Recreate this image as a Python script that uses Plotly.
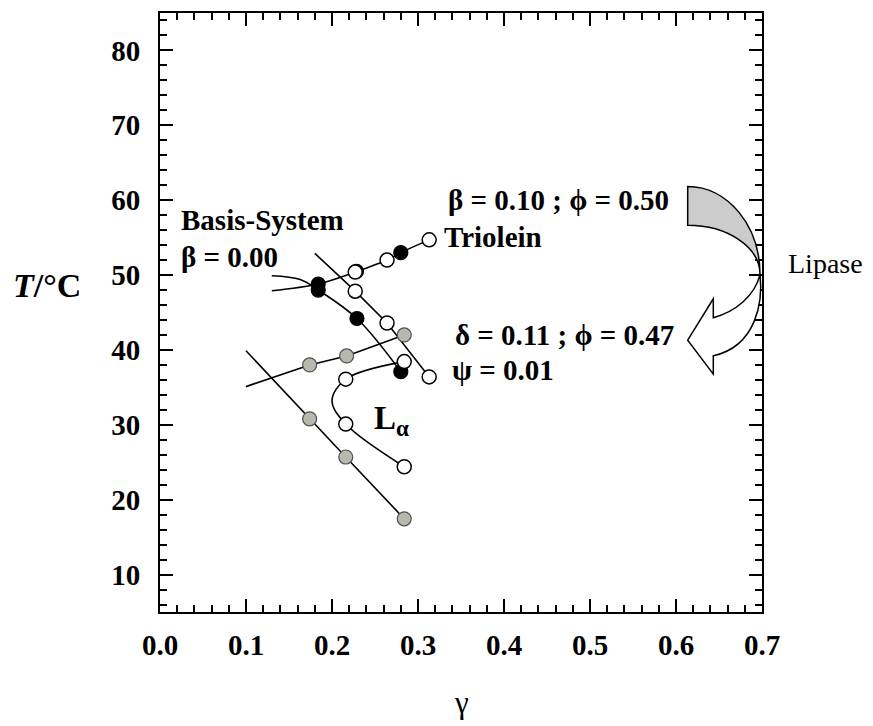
import plotly.graph_objects as go

# ---------------- data ----------------
# phase-boundary lines
tri_line_x = [0.130, 0.184, 0.227, 0.264, 0.280, 0.313]
tri_line_y = [47.9, 48.8, 50.4, 52.0, 53.0, 54.7]

basis_line_x = [0.130, 0.163, 0.184, 0.229, 0.280]
basis_line_y = [49.9, 49.4, 48.0, 44.2, 37.1]

open_up_line_x = [0.180, 0.227, 0.264, 0.313]
open_up_line_y = [52.9, 47.85, 43.6, 36.4]

gray_up_line_x = [0.100, 0.174, 0.217, 0.284]
gray_up_line_y = [35.1, 38.0, 39.2, 42.0]

gray_low_line_x = [0.100, 0.174, 0.216, 0.284]
gray_low_line_y = [39.9, 30.8, 25.7, 17.45]

open_low_line_x = [0.284, 0.216, 0.200, 0.216, 0.284]
open_low_line_y = [38.44, 36.1, 33.2, 30.1, 24.4]

# measured points
black_x = [0.184, 0.184, 0.2285, 0.229, 0.280, 0.280]
black_y = [48.8, 48.0, 50.5, 44.2, 53.0, 37.1]

open_x = [0.227, 0.227, 0.264, 0.264, 0.313, 0.313, 0.284, 0.216, 0.216, 0.284]
open_y = [50.4, 47.85, 52.0, 43.6, 54.7, 36.4, 38.44, 36.1, 30.1, 24.4]

gray_x = [0.174, 0.217, 0.284, 0.174, 0.216, 0.284]
gray_y = [38.0, 39.2, 42.0, 30.8, 25.7, 17.45]

x_range = [0.0, 0.7]
y_range = [5, 85]

# ---------------- layout geometry ----------------
W, H = 873, 726
X0, X1, Y0, Y1 = 160, 762, 11, 612
FONT = "Liberation Serif, Times New Roman, serif"


def px(x):
    return (x - X0) / (X1 - X0)


def py(y):
    return (Y1 - y) / (Y1 - Y0)


fig = go.Figure()

for lx, ly, shape in [
    (tri_line_x, tri_line_y, "spline"),
    (basis_line_x, basis_line_y, "spline"),
    (open_up_line_x, open_up_line_y, "linear"),
    (gray_up_line_x, gray_up_line_y, "linear"),
    (gray_low_line_x, gray_low_line_y, "linear"),
    (open_low_line_x, open_low_line_y, "spline"),
]:
    fig.add_trace(go.Scatter(x=lx, y=ly, mode="lines",
                             line=dict(color="black", width=1.6, shape=shape, smoothing=1.0),
                             hoverinfo="skip", showlegend=False))

fig.add_trace(go.Scatter(x=gray_x, y=gray_y, mode="markers",
                         marker=dict(size=14, color="rgb(184,184,172)",
                                     line=dict(color="rgb(80,80,80)", width=1.2)),
                         showlegend=False))
fig.add_trace(go.Scatter(x=black_x, y=black_y, mode="markers",
                         marker=dict(size=14, color="black",
                                     line=dict(color="black", width=1.2)),
                         showlegend=False))
fig.add_trace(go.Scatter(x=open_x, y=open_y, mode="markers",
                         marker=dict(size=14, color="white",
                                     line=dict(color="black", width=1.5)),
                         showlegend=False))

axis_common = dict(
    showline=True, linecolor="black", linewidth=2, mirror="ticks",
    ticks="inside", ticklen=13, tickwidth=2, tickcolor="black",
    showgrid=False, zeroline=False,
    tickfont=dict(family=FONT, size=29, color="black", weight="bold"),
)

fig.update_xaxes(range=x_range, tick0=0, dtick=0.1, tickformat=".1f",
                 minor=dict(dtick=0.02, ticks="inside", ticklen=7, tickwidth=1.5, tickcolor="black"),
                 ticklabelstandoff=6, **axis_common)
fig.update_yaxes(range=y_range, tick0=10, dtick=10,
                 minor=dict(dtick=2, ticks="inside", ticklen=7, tickwidth=1.5, tickcolor="black"),
                 ticklabelstandoff=12, **axis_common)


def pt(x, y):
    return f"{px(x):.5f},{py(y):.5f}"


# curved "Lipase" arrow (decoration)
gray_band = (f"M {pt(687.7,185)} C {pt(727.6,185)} {pt(760,224.4)} {pt(760,273.3)} "
             f"C {pt(760,246)} {pt(727.6,224)} {pt(687.7,224)} Z")
white_arrow = (f"M {pt(760,273.3)} C {pt(763,300)} {pt(757,345)} {pt(713.3,355)} "
               f"L {pt(713.3,373.3)} L {pt(687.7,339.3)} L {pt(713.3,297.7)} L {pt(713.3,316.7)} "
               f"C {pt(735,311)} {pt(755,295)} {pt(760,273.3)} Z")
shapes = [
    dict(type="path", xref="paper", yref="paper", path=white_arrow,
         fillcolor="white", line=dict(color="black", width=1.5), layer="above"),
    dict(type="path", xref="paper", yref="paper", path=gray_band,
         fillcolor="rgb(204,204,204)", line=dict(color="black", width=1.5), layer="above"),
]

bold = dict(family=FONT, size=29, color="black", weight="bold")
normal = dict(family=FONT, size=28, color="black")
annotations = [
    dict(text="Basis-System", x=px(179), y=py(219), xanchor="left", font=bold),
    dict(text="β = 0.00", x=px(179), y=py(256), xanchor="left", font=bold),
    dict(text="Triolein", x=px(442), y=py(236), xanchor="left", font=bold),
    dict(text="β = 0.10 ; ϕ = 0.50", x=px(671), y=py(199), xanchor="right", font=bold),
    dict(text="δ = 0.11 ; ϕ = 0.47", x=px(676), y=py(334), xanchor="right", font=bold),
    dict(text="ψ = 0.01", x=px(450), y=py(369), xanchor="left", font=bold),
    dict(text="L<sub>α</sub>", x=px(372), y=py(420), xanchor="left",
         font=dict(family=FONT, size=33, color="black", weight="bold")),
    dict(text="Lipase", x=px(786), y=py(262), xanchor="left", font=normal),
    dict(text="<i>T</i>/°C", x=px(47), y=py(284), xanchor="center",
         font=dict(family=FONT, size=34, color="black", weight="bold")),
    dict(text="γ", x=px(461), y=py(703), xanchor="center",
         font=dict(family=FONT, size=31, color="black")),
]
for a in annotations:
    a.update(xref="paper", yref="paper", yanchor="middle", showarrow=False)

fig.update_layout(
    width=W, height=H,
    margin=dict(l=X0, r=W - X1, t=Y0, b=H - Y1, pad=0),
    paper_bgcolor="white", plot_bgcolor="white",
    shapes=shapes, annotations=annotations,
    showlegend=False,
)

fig.write_html("out.html")
